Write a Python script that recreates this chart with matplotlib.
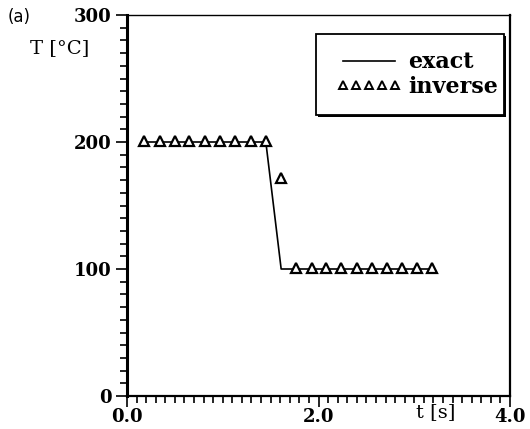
import matplotlib.pyplot as plt
from matplotlib.patches import Rectangle
from matplotlib.ticker import MultipleLocator, FixedLocator

# exact heat-flux step and the inverse estimate
t_exact = [0.18, 1.45, 1.61, 3.19]
T_exact = [200, 200, 100, 100]

t_inv = [0.18, 0.34, 0.50, 0.65, 0.81, 0.97, 1.13, 1.29, 1.45, 1.61,
         1.77, 1.93, 2.08, 2.24, 2.40, 2.56, 2.72, 2.87, 3.03, 3.19]
T_inv = [201, 201, 201, 201, 201, 201, 201, 201, 201, 172,
         101, 101, 101, 101, 101, 101, 101, 101, 101, 101]

x_ticks = [0.0, 2.0, 4.0]
x_labels = ['0.0', '2.0', '4.0']
y_ticks = [0, 100, 200, 300]

serif = 'DejaVu Serif'

fig = plt.figure(figsize=(5.30, 4.29), dpi=100)
ax = fig.add_axes([127 / 530, 33 / 429, 383 / 530, 381 / 429])

ax.plot(t_exact, T_exact, color='black', lw=1.2, label='exact')
ax.plot(t_inv, T_inv, ls='none', marker='^', ms=6.5, mfc='white',
        mec='black', mew=1.6, label='inverse')

ax.set_xlim(0, 4)
ax.set_ylim(0, 300)

ax.xaxis.set_major_locator(FixedLocator(x_ticks))
ax.set_xticklabels(x_labels)
ax.xaxis.set_minor_locator(MultipleLocator(0.1))
ax.yaxis.set_major_locator(FixedLocator(y_ticks))
ax.yaxis.set_minor_locator(MultipleLocator(10))

ax.tick_params(which='both', direction='out', width=1.2, color='black',
               top=False, right=False)
ax.tick_params(which='major', length=8, pad=3)
ax.tick_params(axis='x', which='major', pad=1)
ax.tick_params(which='minor', length=5)
for lab in ax.get_xticklabels() + ax.get_yticklabels():
    lab.set_fontfamily(serif)
    lab.set_fontweight('bold')
    lab.set_fontsize(13)

ax.spines['left'].set_linewidth(2.2)
ax.spines['bottom'].set_linewidth(1.6)
ax.spines['right'].set_linewidth(1.6)
ax.spines['top'].set_linewidth(1.0)

# legend box with a small drop shadow
box_x, box_y, box_w, box_h = 0.493, 0.738, 0.491, 0.212
ax.add_patch(Rectangle((box_x + 0.006, box_y - 0.006), box_w, box_h,
                       transform=ax.transAxes, facecolor='black',
                       edgecolor='none', zorder=4))
ax.add_patch(Rectangle((box_x, box_y), box_w, box_h, transform=ax.transAxes,
                       facecolor='white', edgecolor='black', lw=1.3,
                       zorder=5))

leg = ax.legend(loc='center right', bbox_to_anchor=(0.968, 0.844),
                borderaxespad=0, borderpad=0, numpoints=5,
                handlelength=2.9, handletextpad=0.3, labelspacing=0.1,
                frameon=False,
                prop={'family': serif, 'weight': 'bold', 'size': 16})
leg.set_zorder(6)
for h in leg.legend_handles:
    if h.get_marker() == '^':
        h.set_markersize(6)
        h.set_markeredgewidth(1.4)

fig.text(8 / 530, 1 - 17 / 429, '(a)', fontsize=12, va='center',
         family='DejaVu Sans')
fig.text(30 / 530, 1 - 48 / 429, 'T [°C]', fontsize=14, va='center',
         family=serif)
fig.text(436 / 530, 1 - 412 / 429, 't [s]', fontsize=14, va='center',
         ha='center', family=serif)

fig.savefig('out.png', dpi=100)
